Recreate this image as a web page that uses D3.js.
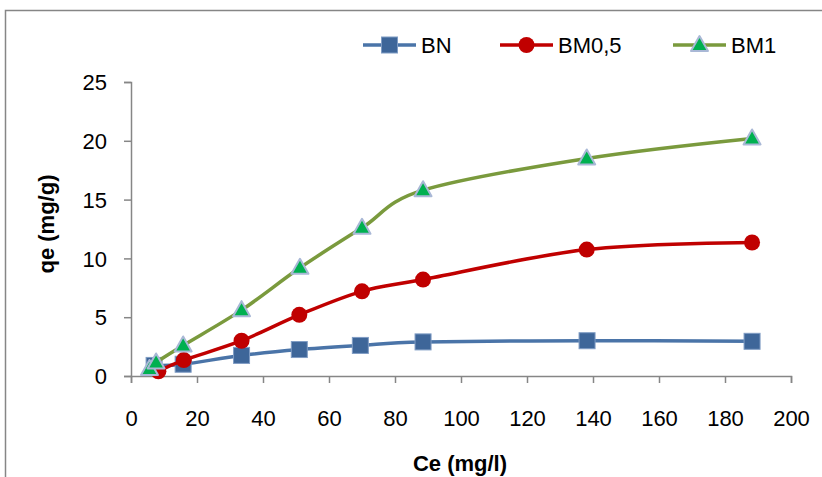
<!DOCTYPE html>
<html lang="en">
<head>
  <meta charset="UTF-8" />
  <title>qe vs Ce</title>
  <script src="https://d3js.org/d3.v7.min.js"></script>
  <style>
    body { margin: 0; background: #fff; }
    text { font-family: "Liberation Sans", Arial, sans-serif; fill: #000; }
  </style>
</head>
<body>
  <svg id="chart" width="822" height="477"></svg>
  <script>
    // data
    const seriesNames = ["BN", "BM0,5", "BM1"];
    const bnCe = [7, 15.8, 33.5, 51, 69.5, 88.5, 138.2, 188.2];
    const bnQe = [0.9, 1.0, 1.75, 2.25, 2.6, 2.9, 3.0, 2.95];
    const bm05Ce = [8.3, 16, 33.5, 51, 70, 88.5, 138.1, 188.2];
    const bm05Qe = [0.4, 1.35, 3.0, 5.2, 7.2, 8.2, 10.75, 11.35];
    const bm1Ce = [5.6, 7.6, 15.8, 33.5, 51.2, 70, 88.5, 138.1, 188.2];
    const bm1Qe = [0.6, 1.15, 2.6, 5.6, 9.2, 12.6, 15.8, 18.5, 20.2];
    const xTicks = [0, 20, 40, 60, 80, 100, 120, 140, 160, 180, 200];
    const yTicks = [0, 5, 10, 15, 20, 25];

    const svg = d3.select("#chart");
    const x = d3.scaleLinear().domain([0, 200]).range([131, 791]);
    const y = d3.scaleLinear().domain([0, 25]).range([376, 82]);
    const axisColor = "#868686";

    // outer chart frame
    svg.append("rect")
      .attr("x", 5.5).attr("y", 10.5)
      .attr("width", 900).attr("height", 600)
      .attr("fill", "none")
      .attr("stroke", axisColor)
      .attr("stroke-width", 1.5);

    // axes
    const xAxis = svg.append("g")
      .attr("transform", `translate(0,${y(0)})`)
      .call(d3.axisBottom(x).tickValues(xTicks).tickSize(7).tickPadding(27));
    const yAxis = svg.append("g")
      .attr("transform", `translate(${x(0)},0)`)
      .call(d3.axisLeft(y).tickValues(yTicks).tickSize(7).tickPadding(17));

    [xAxis, yAxis].forEach((g) => {
      g.select(".domain").attr("stroke", axisColor).attr("stroke-width", 1.5);
      g.selectAll(".tick line").attr("stroke", axisColor).attr("stroke-width", 1.5);
      g.selectAll(".tick text")
        .attr("font-size", 22)
        .attr("font-family", "Liberation Sans, Arial, sans-serif")
        .attr("fill", "#000");
    });
    yAxis.selectAll(".tick text").attr("dy", "0.35em");

    // axis titles
    svg.append("text")
      .attr("x", 460).attr("y", 471)
      .attr("text-anchor", "middle")
      .attr("font-size", 22).attr("font-weight", "bold")
      .text("Ce (mg/l)");
    svg.append("text")
      .attr("transform", "translate(54,224) rotate(-90)")
      .attr("text-anchor", "middle")
      .attr("font-size", 22).attr("font-weight", "bold")
      .text("qe (mg/g)");

    const series = [
      { name: seriesNames[0], ce: bnCe, qe: bnQe, line: "#4A74A8", fill: "#3E6699", stroke: "#7F9CC4", shape: "square" },
      { name: seriesNames[1], ce: bm05Ce, qe: bm05Qe, line: "#C00000", fill: "#C00000", stroke: "#C00000", shape: "circle" },
      { name: seriesNames[2], ce: bm1Ce, qe: bm1Qe, line: "#7A9A3D", fill: "#00B050", stroke: "#A9B8D6", shape: "triangle" }
    ];

    const line = d3.line()
      .x((d) => x(d[0]))
      .y((d) => y(d[1]))
      .curve(d3.curveCardinal.tension(0));

    function marker(g, s, cx, cy) {
      if (s.shape === "square") {
        g.append("rect")
          .attr("x", cx - 8).attr("y", cy - 8)
          .attr("width", 16).attr("height", 16)
          .attr("fill", s.fill).attr("stroke", s.stroke).attr("stroke-width", 1);
      } else if (s.shape === "circle") {
        g.append("circle")
          .attr("cx", cx).attr("cy", cy).attr("r", 8)
          .attr("fill", s.fill);
      } else {
        g.append("path")
          .attr("d", `M${cx},${cy - 9}L${cx + 8.5},${cy + 6}L${cx - 8.5},${cy + 6}Z`)
          .attr("fill", s.fill).attr("stroke", s.stroke).attr("stroke-width", 2)
          .attr("stroke-linejoin", "round");
      }
    }

    series.forEach((s) => {
      const pts = s.ce.map((c, i) => [c, s.qe[i]]);
      const g = svg.append("g");
      g.append("path")
        .datum(pts)
        .attr("d", line)
        .attr("fill", "none")
        .attr("stroke", s.line)
        .attr("stroke-width", 3.5);
      pts.forEach((p) => marker(g, s, x(p[0]), y(p[1])));
    });

    // legend
    const legendX = [363, 500, 673];
    series.forEach((s, i) => {
      const g = svg.append("g");
      const lx = legendX[i];
      g.append("line")
        .attr("x1", lx).attr("x2", lx + 53)
        .attr("y1", 45).attr("y2", 45)
        .attr("stroke", s.line).attr("stroke-width", 3.5);
      marker(g, s, lx + 26.5, 45);
      g.append("text")
        .attr("x", lx + 58).attr("y", 45)
        .attr("dy", "0.35em")
        .attr("font-size", 22)
        .text(s.name);
    });
  </script>
</body>
</html>
